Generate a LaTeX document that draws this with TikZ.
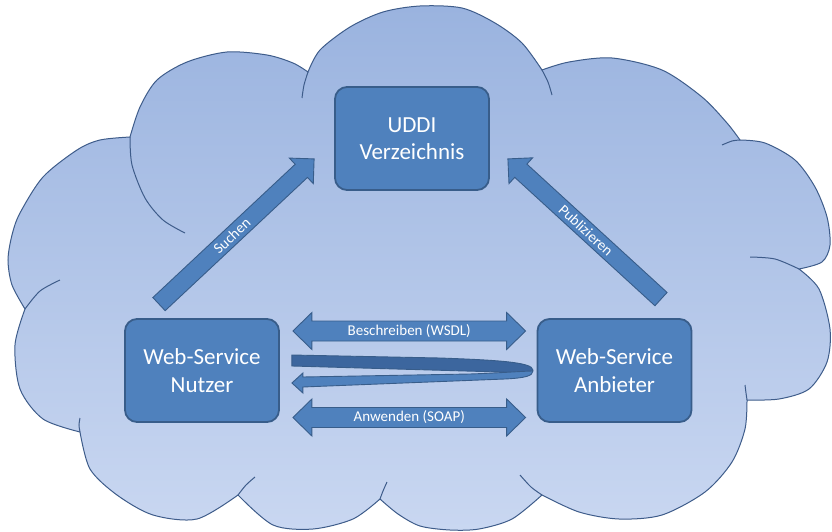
\documentclass[tikz,border=0pt]{standalone}
\usepackage{fontspec}
\setmainfont{Carlito}
\usetikzlibrary{calc}

\definecolor{boxblue}{RGB}{79,129,189}
\definecolor{boxedge}{RGB}{56,93,138}
\definecolor{bandblue}{RGB}{60,102,158}
\definecolor{cloudtop}{RGB}{154,179,223}
\definecolor{cloudbottom}{RGB}{201,215,241}
\definecolor{cloudedge}{RGB}{62,92,138}

% block arrow from #1 (tail) to #2 (tip)
\newcommand\drawblockarrow[2]{%
  \coordinate (#1-neck) at ($(#2)!17.5pt!(#1)$);
  \draw[blockfill]
    ($(#1)!9pt!90:(#2)$) -- ($(#1-neck)!9pt!90:(#2)$) -- ($(#1-neck)!17.5pt!90:(#2)$)
    -- (#2)
    -- ($(#1-neck)!17.5pt!-90:(#2)$) -- ($(#1-neck)!9pt!-90:(#2)$) -- ($(#1)!9pt!-90:(#2)$) -- cycle;
}
% double-headed block arrow between #1 and #2
\newcommand\drawdoublearrow[2]{%
  \coordinate (#1-neck) at ($(#1)!19pt!(#2)$);
  \coordinate (#2-neck) at ($(#2)!19pt!(#1)$);
  \draw[blockfill]
    (#1) -- ($(#1-neck)!18.5pt!90:(#2)$) -- ($(#1-neck)!10pt!90:(#2)$)
    -- ($(#2-neck)!10pt!-90:(#1)$) -- ($(#2-neck)!18.5pt!-90:(#1)$)
    -- (#2) -- ($(#2-neck)!18.5pt!90:(#1)$) -- ($(#2-neck)!10pt!90:(#1)$)
    -- ($(#1-neck)!10pt!-90:(#2)$) -- ($(#1-neck)!18.5pt!-90:(#2)$) -- cycle;
}

\begin{document}
\begin{tikzpicture}[x=1pt,y=-1pt,
  box/.style={draw=boxedge, line width=1.8pt, fill=boxblue, rounded corners=12pt,
    minimum width=154pt, minimum height=103pt, text=white, align=center,
    font=\fontsize{23}{27.5}\selectfont, inner sep=0pt},
  blockfill/.style={fill=boxblue, draw=boxedge, line width=0.9pt, line join=miter},
  lbl/.style={text=white, font=\fontsize{15}{18}\selectfont, inner sep=0pt},
  cloudline/.style={draw=cloudedge, line width=1pt}]

\useasboundingbox (0,0) rectangle (832,532);

% cloud outline, lobe by lobe
\path[cloudline, top color=cloudtop, bottom color=cloudbottom]
  (130,137)
  -- plot[smooth] coordinates {(130,137) (140,107) (157,80) (187,62) (227,52) (267,55) (293,63) (308,72)}
  -- plot[smooth] coordinates {(308,72) (320,50) (350,27) (383,12) (420,6) (462,8) (495,23) (522,43) (542,70)}
  -- plot[smooth] coordinates {(542,70) (569,62) (612,58) (662,70) (702,97) (727,123) (740,140)}
  -- plot[smooth] coordinates {(740,140) (765,143) (795,160) (815,187) (827,217) (830,245) (822,262) (799,269)}
  -- plot[smooth] coordinates {(799,269) (819,289) (830,329) (827,362) (809,389) (779,399) (747,400)}
  -- plot[smooth] coordinates {(747,400) (745,429) (732,462) (705,492) (662,515) (619,519) (579,512) (542,495)}
  -- plot[smooth] coordinates {(542,495) (512,519) (479,529) (450,530) (420,526) (398,514) (380,499)}
  -- plot[smooth] coordinates {(380,499) (353,519) (313,529) (273,525) (238,495)}
  -- plot[smooth] coordinates {(238,495) (197,519) (153,515) (117,495) (90,469) (80,432)}
  -- plot[smooth] coordinates {(80,432) (43,419) (20,389) (15,345) (25,309)}
  -- plot[smooth] coordinates {(25,309) (12,285) (8,260) (12,235) (20,213) (43,177) (77,150) (100,140) (130,137)}
  -- cycle;

% inner arcs of the cloud
\draw[cloudline] plot[smooth] coordinates {(130,137) (132,165) (145,198) (163,220) (185,233)};
\draw[cloudline] plot[smooth] coordinates {(308,72) (304,85) (302,98)};
\draw[cloudline] plot[smooth] coordinates {(542,70) (548,82) (552,95)};
\draw[cloudline] plot[smooth] coordinates {(722,145) (732,141) (740,140)};
\draw[cloudline] plot[smooth] coordinates {(750,257) (775,259) (799,269)};
\draw[cloudline] plot[smooth] coordinates {(745,385) (746,393) (747,400)};
\draw[cloudline] plot[smooth] coordinates {(520,475) (531,487) (542,495)};
\draw[cloudline] plot[smooth] coordinates {(387,482) (383,491) (380,499)};
\draw[cloudline] plot[smooth] coordinates {(255,477) (246,485) (238,495)};
\draw[cloudline] plot[smooth] coordinates {(80,418) (79,425) (80,432)};
\draw[cloudline] plot[smooth] coordinates {(60,280) (40,291) (25,309)};

% boxes
\node[box] (uddi) at (412,138.5) {UDDI\\Verzeichnis};
\node[box] (nutzer) at (202,370.5) {Web-Service\\Nutzer};
\node[box] (anbieter) at (614.5,370.5) {Web-Service\\Anbieter};

% Suchen / Publizieren
\coordinate (sA) at ($(nutzer.north)+(-43,-14)$);
\coordinate (sB) at ($(uddi.south west)+(-20,-32)$);
\coordinate (pA) at ($(anbieter.north)+(46.5,-19)$);
\coordinate (pB) at ($(uddi.south east)+(18,-32)$);
\drawblockarrow{sA}{sB}
\drawblockarrow{pA}{pB}
\path (sA) -- (sB) node[lbl, sloped, pos=0.47] (suchen) {Suchen};
\path (pA) -- (pB) node[lbl, sloped, pos=0.49] (publ) {Publizieren};

% Beschreiben / Anwenden
\coordinate (bL) at ($(nutzer.east)+(13,-39.5)$);
\coordinate (bR) at ($(anbieter.west)+(-11,-39.5)$);
\coordinate (aL) at ($(nutzer.east)+(13,47)$);
\coordinate (aR) at ($(anbieter.west)+(-11,47)$);
\drawdoublearrow{bL}{bR}
\drawdoublearrow{aL}{aR}
\path (bL) -- (bR) node[lbl, midway] (besch) {Beschreiben (WSDL)};
\path (aL) -- (aR) node[lbl, midway] (anw) {Anwenden (SOAP)};

% folded ribbon returning to the consumer
\coordinate (loop) at ($(nutzer.east)+(12,0)$);
\begin{scope}[shift={(loop)}]
  \draw[blockfill, fill=bandblue]
    (0,-15.5) -- (148,-12.5) .. controls (203,-10.5) and (241,-8.5) .. (241,-0.5)
    .. controls (241,3.5) and (228,2.5) .. (208,1.5) -- (0,-4.5) -- cycle;
  \draw[blockfill]
    (0,12.5) -- (11,2.5) -- (11,6.5) -- (178,3.5)
    .. controls (208,2.5) and (233,0.5) .. (241,0.5)
    .. controls (241,5.5) and (233,7.5) .. (213,8.5)
    -- (11,16.5) -- (11,22.5) -- cycle;
\end{scope}

\end{tikzpicture}
\end{document}
